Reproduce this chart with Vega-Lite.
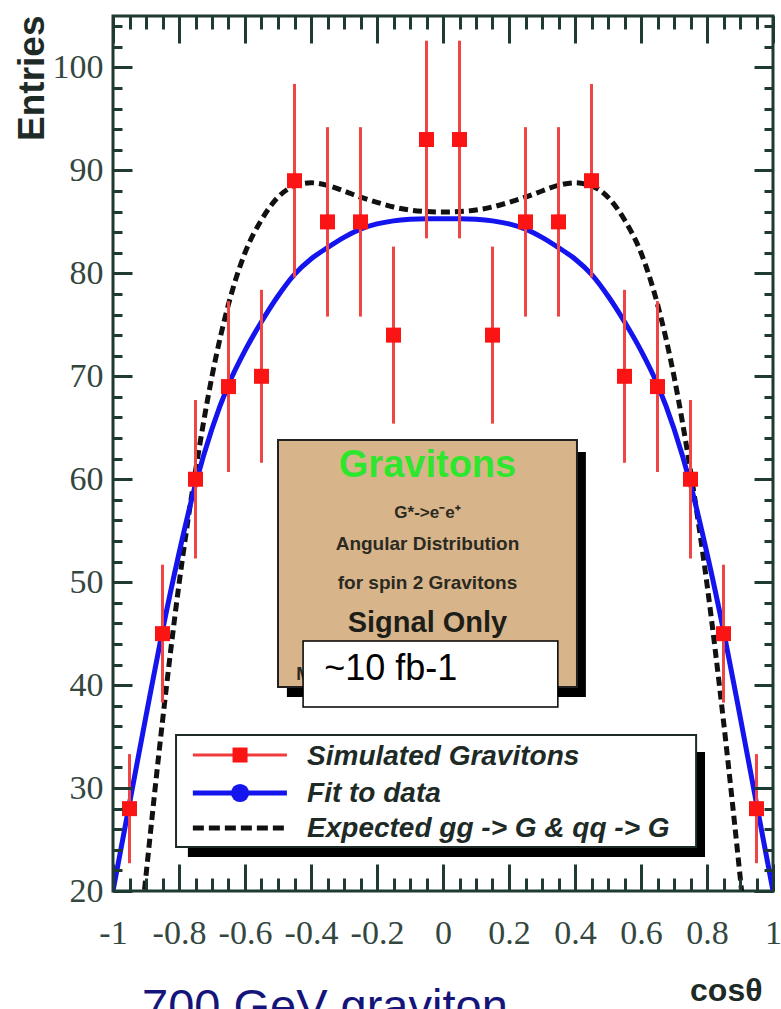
{
  "$schema": "https://vega.github.io/schema/vega-lite/v6.json",
  "autosize": {"type": "none"},
  "width": 660,
  "height": 875,
  "padding": {"left": 113, "top": 16, "right": 8, "bottom": 118},
  "background": "white",
  "config": {
    "view": {"stroke": "#1f3a32", "strokeWidth": 3},
    "font": "Liberation Sans"
  },
  "title": {
    "text": "700 GeV graviton",
    "orient": "bottom",
    "anchor": "start",
    "frame": "group",
    "baseline": "alphabetic",
    "offset": 16,
    "dx": 29,
    "font": "Liberation Sans",
    "fontSize": 47,
    "fontWeight": "normal",
    "color": "#14147a"
  },
  "datasets": {
    "one": [{}],
    "points": [
      {"x": -0.95, "y": 28, "lo": 22.7, "hi": 33.3},
      {"x": -0.85, "y": 45, "lo": 38.3, "hi": 51.7},
      {"x": -0.75, "y": 60, "lo": 52.3, "hi": 67.7},
      {"x": -0.65, "y": 69, "lo": 60.7, "hi": 77.3},
      {"x": -0.55, "y": 70, "lo": 61.6, "hi": 78.4},
      {"x": -0.45, "y": 89, "lo": 79.6, "hi": 98.4},
      {"x": -0.35, "y": 85, "lo": 75.8, "hi": 94.2},
      {"x": -0.25, "y": 85, "lo": 75.8, "hi": 94.2},
      {"x": -0.15, "y": 74, "lo": 65.4, "hi": 82.6},
      {"x": -0.05, "y": 93, "lo": 83.4, "hi": 102.6},
      {"x": 0.05, "y": 93, "lo": 83.4, "hi": 102.6},
      {"x": 0.15, "y": 74, "lo": 65.4, "hi": 82.6},
      {"x": 0.25, "y": 85, "lo": 75.8, "hi": 94.2},
      {"x": 0.35, "y": 85, "lo": 75.8, "hi": 94.2},
      {"x": 0.45, "y": 89, "lo": 79.6, "hi": 98.4},
      {"x": 0.55, "y": 70, "lo": 61.6, "hi": 78.4},
      {"x": 0.65, "y": 69, "lo": 60.7, "hi": 77.3},
      {"x": 0.75, "y": 60, "lo": 52.3, "hi": 67.7},
      {"x": 0.85, "y": 45, "lo": 38.3, "hi": 51.7},
      {"x": 0.95, "y": 28, "lo": 22.7, "hi": 33.3}
    ],
    "fit": [
      {"x": -1.0, "y": 20.0}, {"x": -0.95, "y": 28.5}, {"x": -0.9, "y": 37.0},
      {"x": -0.85, "y": 45.3}, {"x": -0.8, "y": 52.8}, {"x": -0.75, "y": 59.5},
      {"x": -0.7, "y": 64.9}, {"x": -0.65, "y": 69.2}, {"x": -0.6, "y": 72.5},
      {"x": -0.55, "y": 75.3}, {"x": -0.5, "y": 77.8}, {"x": -0.45, "y": 79.9},
      {"x": -0.4, "y": 81.4}, {"x": -0.35, "y": 82.5}, {"x": -0.3, "y": 83.5},
      {"x": -0.25, "y": 84.3}, {"x": -0.2, "y": 84.8}, {"x": -0.15, "y": 85.1},
      {"x": -0.1, "y": 85.25}, {"x": -0.05, "y": 85.3}, {"x": 0.0, "y": 85.3},
      {"x": 0.05, "y": 85.3}, {"x": 0.1, "y": 85.25}, {"x": 0.15, "y": 85.1},
      {"x": 0.2, "y": 84.8}, {"x": 0.25, "y": 84.3}, {"x": 0.3, "y": 83.5},
      {"x": 0.35, "y": 82.5}, {"x": 0.4, "y": 81.4}, {"x": 0.45, "y": 79.9},
      {"x": 0.5, "y": 77.8}, {"x": 0.55, "y": 75.3}, {"x": 0.6, "y": 72.5},
      {"x": 0.65, "y": 69.2}, {"x": 0.7, "y": 64.9}, {"x": 0.75, "y": 59.5},
      {"x": 0.8, "y": 52.8}, {"x": 0.85, "y": 45.3}, {"x": 0.9, "y": 37.0},
      {"x": 0.95, "y": 28.5}, {"x": 1.0, "y": 20.0}
    ],
    "expected": [
      {"x": -0.93, "y": 12.0}, {"x": -0.9, "y": 21.5}, {"x": -0.85, "y": 36.5},
      {"x": -0.8, "y": 49.8}, {"x": -0.75, "y": 60.8}, {"x": -0.7, "y": 70.0},
      {"x": -0.65, "y": 77.0}, {"x": -0.6, "y": 82.0}, {"x": -0.55, "y": 85.2},
      {"x": -0.5, "y": 87.4}, {"x": -0.45, "y": 88.5}, {"x": -0.4, "y": 88.8},
      {"x": -0.35, "y": 88.55}, {"x": -0.3, "y": 88.0}, {"x": -0.25, "y": 87.4},
      {"x": -0.2, "y": 86.9}, {"x": -0.15, "y": 86.45}, {"x": -0.1, "y": 86.15},
      {"x": -0.05, "y": 86.0}, {"x": 0.0, "y": 85.95}, {"x": 0.05, "y": 86.0},
      {"x": 0.1, "y": 86.15}, {"x": 0.15, "y": 86.45}, {"x": 0.2, "y": 86.9},
      {"x": 0.25, "y": 87.4}, {"x": 0.3, "y": 88.0}, {"x": 0.35, "y": 88.55},
      {"x": 0.4, "y": 88.8}, {"x": 0.45, "y": 88.5}, {"x": 0.5, "y": 87.4},
      {"x": 0.55, "y": 85.2}, {"x": 0.6, "y": 82.0}, {"x": 0.65, "y": 77.0},
      {"x": 0.7, "y": 70.0}, {"x": 0.75, "y": 60.8}, {"x": 0.8, "y": 49.8},
      {"x": 0.85, "y": 36.5}, {"x": 0.9, "y": 21.5}, {"x": 0.93, "y": 12.0}
    ]
  },
  "resolve": {"axis": {"x": "independent", "y": "independent"}},
  "layer": [
    {
      "data": {"name": "expected"},
      "mark": {"type": "line", "clip": true, "color": "#111111", "strokeWidth": 5, "strokeDash": [9, 5], "interpolate": "monotone"},
      "encoding": {
        "x": {"field": "x", "type": "quantitative", "scale": {"domain": [-1, 1], "nice": false, "zero": false},
          "axis": {"orient": "bottom", "values": [-1, -0.8, -0.6, -0.4, -0.2, 0, 0.2, 0.4, 0.6, 0.8, 1],
            "tickSize": -27, "tickWidth": 3, "tickColor": "#1f3a32", "domain": false, "grid": false,
            "labels": true, "labelFont": "Liberation Serif", "labelFontSize": 34, "labelColor": "#34473f",
            "labelPadding": 52, "labelFlush": false, "labelOverlap": false, "labelBound": false,
            "labelExpr": "'' + datum.value",
            "title": "cosθ", "titleFont": "Liberation Sans", "titleFontSize": 32, "titleFontWeight": "bold",
            "titleColor": "#1e2a26", "titleAnchor": "end", "titleAlign": "right", "titleBaseline": "alphabetic",
            "titleX": 649, "titleY": 109, "zindex": 1}},
        "y": {"field": "y", "type": "quantitative", "scale": {"domain": [20, 105], "nice": false, "zero": false},
          "axis": {"orient": "left", "values": [20, 30, 40, 50, 60, 70, 80, 90, 100],
            "tickSize": -19, "tickWidth": 3, "tickColor": "#1f3a32", "domain": false, "grid": false,
            "labels": true, "labelFont": "Liberation Serif", "labelFontSize": 34, "labelColor": "#34473f",
            "labelPadding": 29, "labelFlush": false, "labelOverlap": false, "labelBound": false,
            "title": "Entries", "titleFont": "Liberation Sans", "titleFontSize": 37, "titleFontWeight": "bold",
            "titleColor": "#1e2a26", "titleAngle": 270, "titleAlign": "right", "titleBaseline": "alphabetic",
            "titleX": -70, "titleY": -1, "zindex": 1}}
      }
    },
    {
      "data": {"name": "fit"},
      "mark": {"type": "line", "clip": true, "color": "#1414ee", "strokeWidth": 5, "interpolate": "monotone"},
      "encoding": {
        "x": {"field": "x", "type": "quantitative", "scale": {"domain": [-1, 1], "nice": false, "zero": false},
          "axis": {"orient": "bottom", "values": [-1, -0.95, -0.9, -0.85, -0.8, -0.75, -0.7, -0.65, -0.6, -0.55, -0.5, -0.45, -0.4, -0.35, -0.3, -0.25, -0.2, -0.15, -0.1, -0.05, 0, 0.05, 0.1, 0.15, 0.2, 0.25, 0.3, 0.35, 0.4, 0.45, 0.5, 0.55, 0.6, 0.65, 0.7, 0.75, 0.8, 0.85, 0.9, 0.95, 1],
            "tickSize": -13, "tickWidth": 3, "tickColor": "#1f3a32", "domain": false, "grid": false,
            "labels": false, "title": null, "zindex": 1}},
        "y": {"field": "y", "type": "quantitative", "scale": {"domain": [20, 105], "nice": false, "zero": false},
          "axis": {"orient": "left", "values": [20, 22, 24, 26, 28, 30, 32, 34, 36, 38, 40, 42, 44, 46, 48, 50, 52, 54, 56, 58, 60, 62, 64, 66, 68, 70, 72, 74, 76, 78, 80, 82, 84, 86, 88, 90, 92, 94, 96, 98, 100, 102, 104],
            "tickSize": -9, "tickWidth": 3, "tickColor": "#1f3a32", "domain": false, "grid": false,
            "labels": false, "title": null, "zindex": 1}}
      }
    },
    {
      "data": {"name": "points"},
      "mark": {"type": "rule", "color": "#f04545", "strokeWidth": 3},
      "encoding": {
        "x": {"field": "x", "type": "quantitative", "scale": {"domain": [-1, 1], "nice": false, "zero": false},
          "axis": {"orient": "top", "values": [-1, -0.8, -0.6, -0.4, -0.2, 0, 0.2, 0.4, 0.6, 0.8, 1],
            "tickSize": -27, "tickWidth": 3, "tickColor": "#1f3a32", "domain": false, "grid": false,
            "labels": false, "title": null, "zindex": 1}},
        "y": {"field": "lo", "type": "quantitative", "scale": {"domain": [20, 105], "nice": false, "zero": false},
          "axis": {"orient": "right", "values": [20, 30, 40, 50, 60, 70, 80, 90, 100],
            "tickSize": -19, "tickWidth": 3, "tickColor": "#1f3a32", "domain": false, "grid": false,
            "labels": false, "title": null, "zindex": 1}},
        "y2": {"field": "hi"}
      }
    },
    {
      "data": {"name": "points"},
      "mark": {"type": "point", "shape": "square", "filled": true, "size": 225, "color": "#fb1414", "opacity": 1},
      "encoding": {
        "x": {"field": "x", "type": "quantitative", "scale": {"domain": [-1, 1], "nice": false, "zero": false},
          "axis": {"orient": "top", "values": [-1, -0.95, -0.9, -0.85, -0.8, -0.75, -0.7, -0.65, -0.6, -0.55, -0.5, -0.45, -0.4, -0.35, -0.3, -0.25, -0.2, -0.15, -0.1, -0.05, 0, 0.05, 0.1, 0.15, 0.2, 0.25, 0.3, 0.35, 0.4, 0.45, 0.5, 0.55, 0.6, 0.65, 0.7, 0.75, 0.8, 0.85, 0.9, 0.95, 1],
            "tickSize": -13, "tickWidth": 3, "tickColor": "#1f3a32", "domain": false, "grid": false,
            "labels": false, "title": null, "zindex": 1}},
        "y": {"field": "y", "type": "quantitative", "scale": {"domain": [20, 105], "nice": false, "zero": false},
          "axis": {"orient": "right", "values": [20, 22, 24, 26, 28, 30, 32, 34, 36, 38, 40, 42, 44, 46, 48, 50, 52, 54, 56, 58, 60, 62, 64, 66, 68, 70, 72, 74, 76, 78, 80, 82, 84, 86, 88, 90, 92, 94, 96, 98, 100, 102, 104],
            "tickSize": -9, "tickWidth": 3, "tickColor": "#1f3a32", "domain": false, "grid": false,
            "labels": false, "title": null, "zindex": 1}}
      }
    },
    {
      "data": {"name": "one"},
      "mark": {"type": "rect", "color": "#000000"},
      "encoding": {
        "x": {"datum": -0.473, "axis": null}, "x2": {"datum": 0.433},
        "y": {"datum": 62.65, "axis": null}, "y2": {"datum": 38.85}
      }
    },
    {
      "data": {"name": "one"},
      "mark": {"type": "rect", "fill": "#d8b48a", "stroke": "#222222", "strokeWidth": 2},
      "encoding": {
        "x": {"datum": -0.5, "axis": null}, "x2": {"datum": 0.406},
        "y": {"datum": 63.81, "axis": null}, "y2": {"datum": 39.82}
      }
    },
    {
      "data": {"name": "one"},
      "mark": {"type": "text", "text": "Gravitons", "align": "center", "baseline": "alphabetic", "font": "Liberation Sans", "fontSize": 38, "fontWeight": "bold", "color": "#2ee62e"},
      "encoding": {"x": {"datum": -0.047, "axis": null}, "y": {"datum": 60.22, "axis": null}}
    },
    {
      "data": {"name": "one"},
      "mark": {"type": "text", "text": "G*->e⁻e⁺", "align": "center", "baseline": "alphabetic", "font": "Liberation Sans", "fontSize": 17, "fontWeight": "bold", "color": "#2a2a22"},
      "encoding": {"x": {"datum": -0.047, "axis": null}, "y": {"datum": 56.23, "axis": null}}
    },
    {
      "data": {"name": "one"},
      "mark": {"type": "text", "text": "Angular Distribution", "align": "center", "baseline": "alphabetic", "font": "Liberation Sans", "fontSize": 19, "fontWeight": "bold", "color": "#2a2a22"},
      "encoding": {"x": {"datum": -0.047, "axis": null}, "y": {"datum": 53.13, "axis": null}}
    },
    {
      "data": {"name": "one"},
      "mark": {"type": "text", "text": "for spin 2 Gravitons", "align": "center", "baseline": "alphabetic", "font": "Liberation Sans", "fontSize": 19, "fontWeight": "bold", "color": "#2a2a22"},
      "encoding": {"x": {"datum": -0.047, "axis": null}, "y": {"datum": 49.34, "axis": null}}
    },
    {
      "data": {"name": "one"},
      "mark": {"type": "text", "text": "Signal Only", "align": "center", "baseline": "alphabetic", "font": "Liberation Sans", "fontSize": 29, "fontWeight": "bold", "color": "#1e1e18"},
      "encoding": {"x": {"datum": -0.047, "axis": null}, "y": {"datum": 45.16, "axis": null}}
    },
    {
      "data": {"name": "one"},
      "mark": {"type": "text", "text": "M", "align": "left", "baseline": "alphabetic", "font": "Liberation Sans", "fontSize": 18, "fontWeight": "bold", "color": "#2a2a22"},
      "encoding": {"x": {"datum": -0.445, "axis": null}, "y": {"datum": 40.5, "axis": null}}
    },
    {
      "data": {"name": "one"},
      "mark": {"type": "rect", "fill": "#ffffff", "stroke": "#000000", "strokeWidth": 1.5},
      "encoding": {
        "x": {"datum": -0.424, "axis": null}, "x2": {"datum": 0.348},
        "y": {"datum": 44.29, "axis": null}, "y2": {"datum": 37.87}
      }
    },
    {
      "data": {"name": "one"},
      "mark": {"type": "text", "text": "~10 fb-1", "align": "left", "baseline": "alphabetic", "font": "Liberation Sans", "fontSize": 36, "color": "#000000"},
      "encoding": {"x": {"datum": -0.36, "axis": null}, "y": {"datum": 40.5, "axis": null}}
    },
    {
      "data": {"name": "one"},
      "mark": {"type": "rect", "color": "#000000"},
      "encoding": {
        "x": {"datum": -0.773, "axis": null}, "x2": {"datum": 0.794},
        "y": {"datum": 33.5, "axis": null}, "y2": {"datum": 23.3}
      }
    },
    {
      "data": {"name": "one"},
      "mark": {"type": "rect", "fill": "#ffffff", "stroke": "#1e2a26", "strokeWidth": 2},
      "encoding": {
        "x": {"datum": -0.809, "axis": null}, "x2": {"datum": 0.767},
        "y": {"datum": 35.15, "axis": null}, "y2": {"datum": 24.27}
      }
    },
    {
      "data": {"name": "one"},
      "mark": {"type": "rule", "color": "#f03c3c", "strokeWidth": 3},
      "encoding": {"x": {"datum": -0.758, "axis": null}, "x2": {"datum": -0.473}, "y": {"datum": 33.21, "axis": null}}
    },
    {
      "data": {"name": "one"},
      "mark": {"type": "point", "shape": "square", "filled": true, "size": 225, "color": "#fb1414", "opacity": 1},
      "encoding": {"x": {"datum": -0.615, "axis": null}, "y": {"datum": 33.21, "axis": null}}
    },
    {
      "data": {"name": "one"},
      "mark": {"type": "rule", "color": "#1414ee", "strokeWidth": 5},
      "encoding": {"x": {"datum": -0.758, "axis": null}, "x2": {"datum": -0.473}, "y": {"datum": 29.52, "axis": null}}
    },
    {
      "data": {"name": "one"},
      "mark": {"type": "point", "shape": "circle", "filled": true, "size": 330, "color": "#1414ee", "opacity": 1},
      "encoding": {"x": {"datum": -0.615, "axis": null}, "y": {"datum": 29.52, "axis": null}}
    },
    {
      "data": {"name": "one"},
      "mark": {"type": "rule", "color": "#111111", "strokeWidth": 5, "strokeDash": [11, 5]},
      "encoding": {"x": {"datum": -0.758, "axis": null}, "x2": {"datum": -0.473}, "y": {"datum": 26.12, "axis": null}}
    },
    {
      "data": {"name": "one"},
      "mark": {"type": "text", "text": "Simulated Gravitons", "align": "left", "baseline": "alphabetic", "font": "Liberation Sans", "fontSize": 28, "fontWeight": "bold", "fontStyle": "italic", "color": "#1e2a26"},
      "encoding": {"x": {"datum": -0.412, "axis": null}, "y": {"datum": 32.24, "axis": null}}
    },
    {
      "data": {"name": "one"},
      "mark": {"type": "text", "text": "Fit to data", "align": "left", "baseline": "alphabetic", "font": "Liberation Sans", "fontSize": 28, "fontWeight": "bold", "fontStyle": "italic", "color": "#1e2a26"},
      "encoding": {"x": {"datum": -0.412, "axis": null}, "y": {"datum": 28.65, "axis": null}}
    },
    {
      "data": {"name": "one"},
      "mark": {"type": "text", "text": "Expected gg -> G & qq -> G", "align": "left", "baseline": "alphabetic", "font": "Liberation Sans", "fontSize": 28, "fontWeight": "bold", "fontStyle": "italic", "color": "#1e2a26"},
      "encoding": {"x": {"datum": -0.412, "axis": null}, "y": {"datum": 25.25, "axis": null}}
    }
  ]
}
